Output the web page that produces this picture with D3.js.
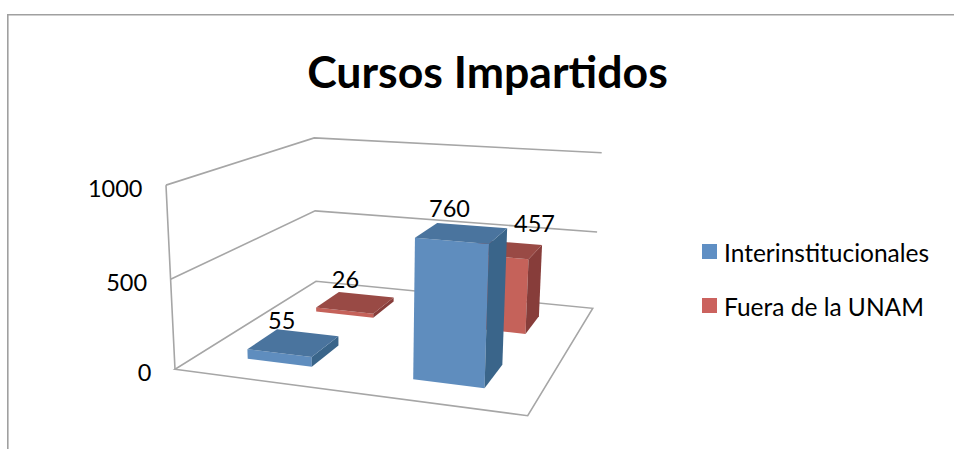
<!DOCTYPE html>
<html><head><meta charset="utf-8">
<script src="https://cdn.jsdelivr.net/npm/d3@7"></script>
<style>html,body{margin:0;padding:0;background:#fff}svg{display:block}text{font-family:Lato,"Open Sans",sans-serif;fill:#000}</style>
</head><body><svg id="c" width="954" height="449"></svg>
<script>
const title = "Cursos Impartidos";
const categories = ["Categoría 1", "Categoría 2"];
const seriesNames = ["Interinstitucionales", "Fuera de la UNAM"];
const interinstitucionales = [55, 760];
const fueraUNAM = [26, 457];
const valueTicks = [0, 500, 1000];

// layout
const frontColors = ["#5f8dbe", "#c5625a"], topColors = ["#4a749e", "#994a45"], sideColors = ["#3a658a", "#873d3a"];
const legendColors = ["#5f8fc4", "#cb625e"];
const floorQuad = [[175,369.3],[527.7,415.7],[592.7,308.3],[316,281.3]];
const verticalVanish = [365,4251];
const labelShift = [[[-12,-14],[-12.5,-15.5]],[[-10,-15],[30.5,-17]]];

function homography(q){
  const [[x0,y0],[x1,y1],[x2,y2],[x3,y3]] = q;
  const dx1=x1-x2, dx2=x3-x2, sx=x0-x1+x2-x3, dy1=y1-y2, dy2=y3-y2, sy=y0-y1+y2-y3;
  const den=dx1*dy2-dx2*dy1, g=(sx*dy2-dx2*sy)/den, h=(dx1*sy-sx*dy1)/den;
  const a=x1-x0+g*x1, b=x3-x0+h*x3, d=y1-y0+g*y1, e=y3-y0+h*y3;
  return (u,v)=>[a*u+b*v+x0, d*u+e*v+y0, g*u+h*v+1];
}
const floorH = homography(floorQuad);
const lift = d3.scaleLinear().domain([0,1000]).range([0,-0.0453]);
const xBand = d3.scaleBand().domain(categories).range([0,1]).paddingInner(0.6).paddingOuter(0.3);
const zBand = d3.scaleBand().domain(seriesNames).range([0,1]).paddingInner(0.6).paddingOuter(0.3);
function pt(u,v,val){
  const [X,Y,W]=floorH(u,v), s=lift(val), d=W+s;
  return [(X+s*verticalVanish[0])/d,(Y+s*verticalVanish[1])/d];
}
const svg = d3.select("#c");
const line = d3.line();
const poly = p => line(p)+"Z";

// frame
svg.append("path").attr("d","M7.8,449V14.8H954").attr("fill","none").attr("stroke","#a0a0a0").attr("stroke-width",1.6);

// title
svg.append("text").attr("x",487.5).attr("y",87.5).attr("text-anchor","middle")
  .attr("font-size",44.6).attr("font-weight",700).text(title);

// walls and floor
const wall = svg.append("g").attr("fill","none").attr("stroke","#a6a6a6").attr("stroke-width",1.6);
wall.append("path").attr("d",poly([pt(0,0,0),pt(1,0,0),pt(1,1,0),pt(0,1,0)]));
wall.append("path").attr("d",line([pt(0,0,0),pt(0,0,500),pt(0,0,1000)]));
wall.selectAll("path.grid").data(valueTicks.slice(1)).join("path").attr("class","grid")
  .attr("d",v=>line([pt(0,0,v),pt(0,1,v),pt(1,1,v)]));

// value axis
svg.selectAll("text.tick").data(valueTicks).join("text").attr("class","tick")
  .attr("x",v=>pt(0,0,v)[0]-23.5).attr("y",v=>pt(0,0,v)[1]+11.5)
  .attr("text-anchor","end").attr("font-size",23.5).text(v=>v);

// bars, back series first
const seriesValues = [interinstitucionales, fueraUNAM];
const bars = [];
seriesNames.forEach((s,si)=>categories.forEach((c,ci)=>bars.push({s,si,c,ci,val:seriesValues[si][ci]})));
bars.sort((a,b)=>b.si-a.si);
const barG = svg.selectAll("g.bar").data(bars).join("g").attr("class","bar");
const ends = d=>({u0:xBand(d.c),u1:xBand(d.c)+xBand.bandwidth(),v0:zBand(d.s),v1:zBand(d.s)+zBand.bandwidth()});
barG.append("path").attr("fill",d=>frontColors[d.si]).attr("d",d=>{const e=ends(d);
  return poly([pt(e.u0,e.v0,0),pt(e.u1,e.v0,0),pt(e.u1,e.v0,d.val),pt(e.u0,e.v0,d.val)]);});
barG.append("path").attr("fill",d=>sideColors[d.si]).attr("d",d=>{const e=ends(d);
  return poly([pt(e.u1,e.v0,0),pt(e.u1,e.v1,0),pt(e.u1,e.v1,d.val),pt(e.u1,e.v0,d.val)]);});
barG.append("path").attr("fill",d=>topColors[d.si]).attr("d",d=>{const e=ends(d);
  return poly([pt(e.u0,e.v0,d.val),pt(e.u1,e.v0,d.val),pt(e.u1,e.v1,d.val),pt(e.u0,e.v1,d.val)]);});

// data labels
svg.selectAll("text.dl").data(bars).join("text").attr("class","dl")
  .attr("text-anchor","middle").attr("font-size",23.5)
  .attr("x",d=>{const e=ends(d);return pt((e.u0+e.u1)/2,(e.v0+e.v1)/2,d.val)[0]+labelShift[d.si][d.ci][0];})
  .attr("y",d=>{const e=ends(d);return pt((e.u0+e.u1)/2,(e.v0+e.v1)/2,d.val)[1]+labelShift[d.si][d.ci][1];})
  .text(d=>d.val);

// legend
const legend = d3.scalePoint().domain(seriesNames).range([244,298]);
const lg = svg.selectAll("g.lg").data(seriesNames).join("g").attr("class","lg");
lg.append("rect").attr("x",702).attr("y",d=>legend(d)).attr("width",15).attr("height",15)
  .attr("fill",(d,i)=>legendColors[i]);
lg.append("text").attr("x",724).attr("y",d=>legend(d)+18).attr("font-size",24.5).text(d=>d);
</script></body></html>
